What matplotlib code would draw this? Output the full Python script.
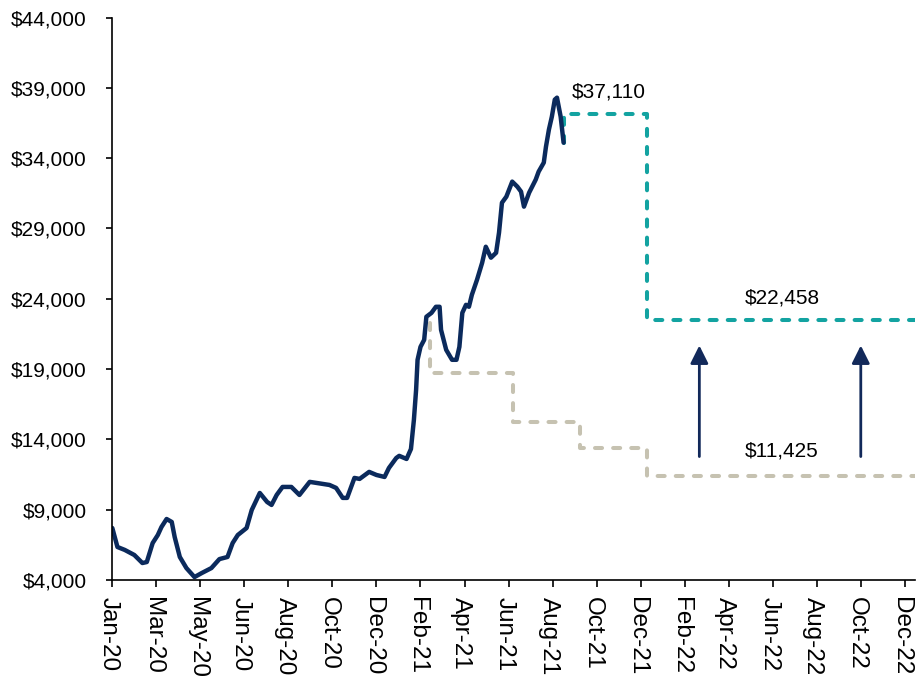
import matplotlib
matplotlib.use("Agg")
import matplotlib.pyplot as plt
import matplotlib.dates as mdates
import matplotlib.transforms as mtransforms
from matplotlib.ticker import FuncFormatter, FixedLocator
import pandas as pd

plt.rcParams['font.family'] = ['Liberation Sans', 'DejaVu Sans']

# price history
price_dates = [
    "2020-01-02", "2020-01-09", "2020-01-19", "2020-02-01", "2020-02-12", "2020-02-18",
    "2020-02-26", "2020-03-04", "2020-03-09", "2020-03-16", "2020-03-23", "2020-03-27",
    "2020-04-03", "2020-04-12", "2020-04-23", "2020-05-03", "2020-05-16", "2020-05-27",
    "2020-06-07", "2020-06-14", "2020-06-21", "2020-07-03", "2020-07-10", "2020-07-21",
    "2020-07-31", "2020-08-06", "2020-08-13", "2020-08-21", "2020-09-02", "2020-09-13",
    "2020-09-27", "2020-10-24", "2020-11-02", "2020-11-11", "2020-11-17", "2020-11-27",
    "2020-12-04", "2020-12-17", "2020-12-27", "2021-01-07", "2021-01-13", "2021-01-23",
    "2021-01-27", "2021-02-06", "2021-02-12", "2021-02-16", "2021-02-19", "2021-02-21",
    "2021-02-25", "2021-03-02", "2021-03-05", "2021-03-12", "2021-03-18", "2021-03-23",
    "2021-03-25", "2021-04-01", "2021-04-09", "2021-04-15", "2021-04-19", "2021-04-23",
    "2021-04-28", "2021-05-02", "2021-05-06", "2021-05-13", "2021-05-20", "2021-05-25",
    "2021-06-01", "2021-06-08", "2021-06-12", "2021-06-16", "2021-06-22", "2021-06-30",
    "2021-07-07", "2021-07-12", "2021-07-16", "2021-07-23", "2021-08-01", "2021-08-05",
    "2021-08-12", "2021-08-15", "2021-08-19", "2021-08-23", "2021-08-27", "2021-08-30",
    "2021-09-04", "2021-09-08",
]
price_values = [
    7700, 6350, 6140, 5780, 5210, 5280,
    6630, 7200, 7770, 8340, 8130, 7060,
    5640, 4850, 4210, 4500, 4850, 5490,
    5640, 6630, 7200, 7700, 8980, 10190,
    9550, 9340, 10050, 10620, 10620, 10050,
    10980, 10760, 10550, 9840, 9840, 11260,
    11190, 11690, 11470, 11330, 11970, 12680,
    12830, 12610, 13320, 15390, 17520, 19660,
    20580, 21080, 22720, 23000, 23430, 23430,
    21790, 20370, 19660, 19660, 20580, 23000,
    23570, 23430, 24280, 25350, 26560, 27700,
    26920, 27270, 28700, 30830, 31260, 32330,
    31970, 31620, 30550, 31540, 32470, 33040,
    33680, 34820, 36030, 36950, 38160, 38300,
    36950, 35100,
]

# upper projection (teal)
upper_dates = ["2021-09-08", "2021-09-08", "2021-12-31", "2021-12-31", "2023-01-31"]
upper_values = [35100, 37110, 37110, 22458, 22458]

# lower projection (grey steps)
lower_dates = ["2021-03-10", "2021-03-10", "2021-07-01", "2021-07-01", "2021-09-30",
               "2021-09-30", "2021-12-31", "2021-12-31", "2023-01-31"]
lower_values = [22290, 18730, 18730, 15250, 15250, 13390, 13390, 11425, 11425]

# arrows between the two levels
arrow_dates = ["2022-03-12", "2022-10-18"]
arrow_from = 12780
arrow_to = 20680

navy = "#0B2A5C"
teal = "#13A3A1"
grey = "#C6C2B1"

fig = plt.figure(figsize=(9.16, 6.84), dpi=100)
ax = fig.add_axes([0.1226, 0.152, 0.8764, 0.8224])

ax.plot(pd.to_datetime(lower_dates), lower_values, color=grey, lw=2.9,
        linestyle=(0, (1.75, 2.75)), dash_capstyle='round')
ax.plot(pd.to_datetime(upper_dates), upper_values, color=teal, lw=2.9,
        linestyle=(0, (1.75, 2.75)), dash_capstyle='round')
ax.plot(pd.to_datetime(price_dates), price_values, color=navy, lw=3.2,
        solid_joinstyle='round', solid_capstyle='round')

for d in pd.to_datetime(arrow_dates):
    ax.annotate('', xy=(d, arrow_to), xytext=(d, arrow_from),
                arrowprops=dict(arrowstyle='-|>', mutation_scale=27, lw=2,
                                color='#12295A', shrinkA=0, shrinkB=0))

# labels
ax.text(pd.Timestamp("2021-11-09"), 38680, "$37,110", ha='center', va='center', fontsize=15)
ax.text(pd.Timestamp("2022-07-03"), 24040, "$22,458", ha='center', va='center', fontsize=15)
ax.text(pd.Timestamp("2022-07-02"), 13170, "$11,425", ha='center', va='center', fontsize=15)

# axes
start = pd.Timestamp("2020-01-02")
ax.set_xlim(start, pd.Timestamp("2022-12-31"))
ax.set_ylim(4000, 44000)

# Excel-style date axis: a tick every 60 days
ticks = [start + pd.Timedelta(days=60 * k) for k in range(19)]
ax.xaxis.set_major_locator(FixedLocator(mdates.date2num(ticks)))
ax.xaxis.set_major_formatter(mdates.DateFormatter('%b-%y'))
ax.set_yticks(range(4000, 44001, 5000))
ax.yaxis.set_major_formatter(FuncFormatter(lambda v, p: f"${int(v):,}"))

ax.tick_params(axis='x', direction='out', length=5, width=1.2, pad=7)
ax.tick_params(axis='y', direction='out', length=4.5, width=1.2, pad=14)

# сдвиг подписей оси X, чтобы буквы стояли по центру деления
shift = mtransforms.ScaledTranslation(-3.5 / 100, 0, fig.dpi_scale_trans)
for lbl in ax.get_xticklabels():
    lbl.set_rotation(270)
    lbl.set_fontsize(17.5)
    lbl.set_transform(lbl.get_transform() + shift)
plt.setp(ax.get_yticklabels(), fontsize=15)

ax.spines['top'].set_visible(False)
ax.spines['right'].set_visible(False)
ax.spines['left'].set_linewidth(1.2)
ax.spines['bottom'].set_linewidth(1.2)

fig.savefig("out.png", dpi=100)
plt.close(fig)
